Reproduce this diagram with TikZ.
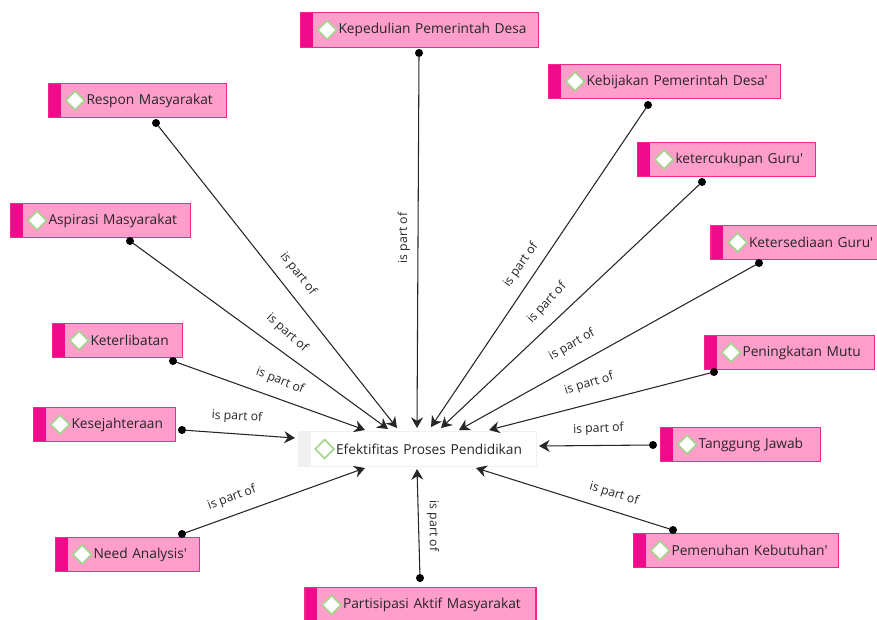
\documentclass[tikz,border=0pt]{standalone}
\usepackage{fontspec}
\setmainfont[Ligatures=TeXOff]{Open Sans}
\usetikzlibrary{arrows.meta}
\definecolor{codepink}{HTML}{FF9DCB}
\definecolor{codeedge}{HTML}{F0288C}
\definecolor{codestrip}{HTML}{F00A8C}
\definecolor{diamondgreen}{HTML}{A2D58A}
\tikzset{
  plainbox/.style={rectangle,inner sep=0pt,minimum height=26pt,text width=#1*0.75pt,align=left,
    font=\fontsize{10.3}{12}\selectfont,text=black!85,execute at begin node={\hspace*{28.5pt}}},
  codebox/.style={plainbox=#1,draw=codeedge,line width=0.8pt,fill=codepink,
    path picture={
      \fill[codestrip] (path picture bounding box.south west) rectangle ([xshift=9pt]path picture bounding box.north west);
      \draw[diamondgreen,fill=white,line width=1.2pt] ([xshift=20pt]path picture bounding box.west) ++(-7pt,0) -- ++(7pt,7pt) -- ++(7pt,-7pt) -- ++(-7pt,-7pt) -- cycle;
    }},
  corebox/.style={plainbox=#1,draw=black!6,line width=0.6pt,fill=white,
    path picture={
      \fill[black!6] (path picture bounding box.south west) rectangle ([xshift=9.5pt]path picture bounding box.north west);
      \draw[diamondgreen,fill=white,line width=1.2pt] ([xshift=20pt]path picture bounding box.west) ++(-7pt,0) -- ++(7pt,7pt) -- ++(7pt,-7pt) -- ++(-7pt,-7pt) -- cycle;
    }},
  dotnode/.style={circle,fill=black,inner sep=0pt,minimum size=6pt},
  partof/.style={-{Stealth[length=8pt,width=9pt]},line width=0.8pt,black!85,shorten <=-1pt},
  partlabel/.style={font=\fontsize{9.2}{11}\selectfont,inner sep=1pt,text=black!85},
}
\begin{document}
\begin{tikzpicture}[x=0.75pt,y=-0.75pt]
\useasboundingbox (0,0) rectangle (877,619);

\node[corebox=238] (efektifitas) at (417,449) {Efektifitas Proses Pendidikan};

\node[codebox=238] (kepedulian) at (419.5,30) {Kepedulian Pemerintah Desa};
\node[codebox=178] (respon) at (137.5,100.5) {Respon Masyarakat};
\node[codebox=232] (kebijakan) at (664.5,81.5) {Kebijakan Pemerintah Desa'};
\node[codebox=180] (aspirasi) at (100.5,220.5) {Aspirasi Masyarakat};
\node[codebox=178] (ketercukupan) at (726.5,159.5) {ketercukupan Guru'};
\node[codebox=170] (ketersediaan) at (796,242.5) {Ketersediaan Guru'};
\node[codebox=130] (keterlibatan) at (117.5,340.5) {Keterlibatan};
\node[codebox=170] (peningkatan) at (789.5,352.5) {Peningkatan Mutu};
\node[codebox=142] (kesejahteraan) at (104.5,424.5) {Kesejahteraan};
\node[codebox=160] (tanggung) at (740.5,444.5) {Tanggung Jawab};
\node[codebox=144] (need) at (127.5,554.5) {Need Analysis'};
\node[codebox=205] (pemenuhan) at (736,550.5) {Pemenuhan Kebutuhan'};
\node[codebox=231] (partisipasi) at (420.5,605) {Partisipasi Aktif Masyarakat};

\node[dotnode] (dotkepedulian) at (419,53) {};
\node[dotnode] (dotrespon) at (156,123) {};
\node[dotnode] (dotkebijakan) at (648,105) {};
\node[dotnode] (dotaspirasi) at (130,241) {};
\node[dotnode] (dotketercukupan) at (702,182) {};
\node[dotnode] (dotketersediaan) at (759,263) {};
\node[dotnode] (dotketerlibatan) at (173,361) {};
\node[dotnode] (dotpeningkatan) at (714,372) {};
\node[dotnode] (dotkesejahteraan) at (182,430) {};
\node[dotnode] (dottanggung) at (653,445) {};
\node[dotnode] (dotneed) at (182,534) {};
\node[dotnode] (dotpemenuhan) at (673,530) {};
\node[dotnode] (dotpartisipasi) at (420,578) {};

\coordinate (endkepedulian) at (417,428);
\coordinate (endrespon) at (397,428);
\coordinate (endkebijakan) at (431,427);
\coordinate (endaspirasi) at (388,429);
\coordinate (endketercukupan) at (441,428);
\coordinate (endketersediaan) at (459,430);
\coordinate (endketerlibatan) at (365,430);
\coordinate (endpeningkatan) at (489,430);
\coordinate (endkesejahteraan) at (295,438);
\coordinate (endtanggung) at (539,446);
\coordinate (endneed) at (365,468);
\coordinate (endpemenuhan) at (476,468);
\coordinate (endpartisipasi) at (417,469);

\draw[partof] (dotkepedulian) -- (endkepedulian);
\draw[partof] (dotrespon) -- (endrespon);
\draw[partof] (dotkebijakan) -- (endkebijakan);
\draw[partof] (dotaspirasi) -- (endaspirasi);
\draw[partof] (dotketercukupan) -- (endketercukupan);
\draw[partof] (dotketersediaan) -- (endketersediaan);
\draw[partof] (dotketerlibatan) -- (endketerlibatan);
\draw[partof] (dotpeningkatan) -- (endpeningkatan);
\draw[partof] (dotkesejahteraan) -- (endkesejahteraan);
\draw[partof] (dottanggung) -- (endtanggung);
\draw[partof] (dotneed) -- (endneed);
\draw[partof] (dotpemenuhan) -- (endpemenuhan);
\draw[partof] (dotpartisipasi) -- (endpartisipasi);

\node[partlabel,rotate=90] (lblkepedulian) at (404,238) {is part of};
\node[partlabel,rotate=-52] (lblrespon) at (298,274) {is part of};
\node[partlabel,rotate=55] (lblkebijakan) at (521,265) {is part of};
\node[partlabel,rotate=-42] (lblaspirasi) at (287,333) {is part of};
\node[partlabel,rotate=47] (lblketercukupan) at (547,303) {is part of};
\node[partlabel,rotate=30] (lblketersediaan) at (572,345) {is part of};
\node[partlabel,rotate=-22] (lblketerlibatan) at (280,381) {is part of};
\node[partlabel,rotate=17] (lblpeningkatan) at (589,384) {is part of};
\node[partlabel,rotate=-3] (lblkesejahteraan) at (237,417) {is part of};
\node[partlabel,rotate=2] (lbltanggung) at (598.5,429) {is part of};
\node[partlabel,rotate=20] (lblneed) at (232,498) {is part of};
\node[partlabel,rotate=-17] (lblpemenuhan) at (614,494) {is part of};
\node[partlabel,rotate=-90] (lblpartisipasi) at (433,526) {is part of};

\end{tikzpicture}
\end{document}
